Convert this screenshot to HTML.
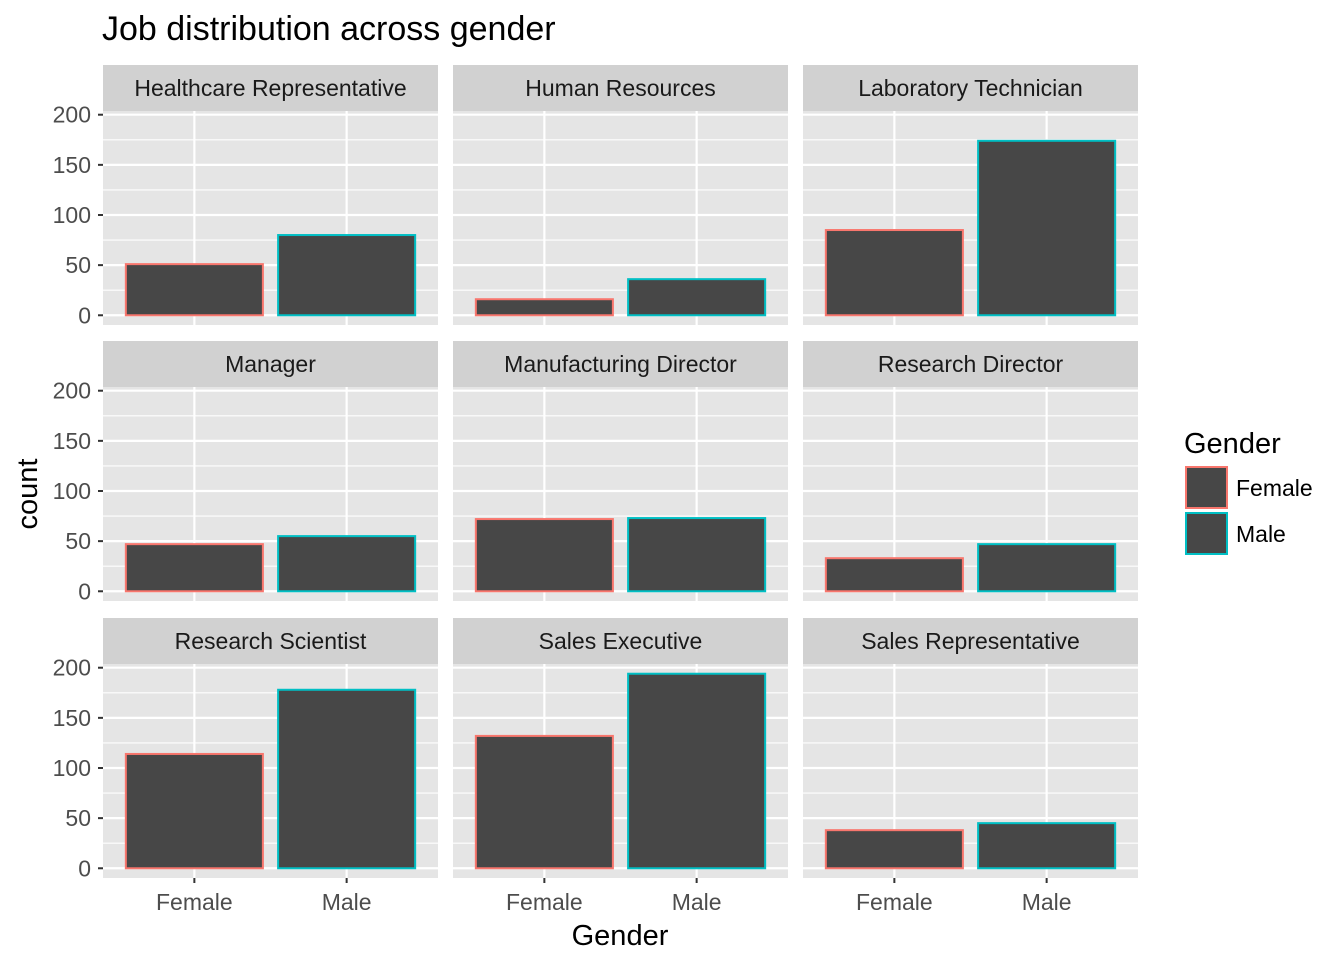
<!DOCTYPE html>
<html><head><meta charset="utf-8"><style>
html,body{margin:0;padding:0;background:#fff;}
svg text{font-family:"Liberation Sans",Arial,sans-serif;}
</style></head><body>
<svg id="chart" width="1344" height="960" xmlns="http://www.w3.org/2000/svg">
<text x="102" y="40" font-size="34" fill="#000">Job distribution across gender</text>
<text x="620" y="945" font-size="29" fill="#000" text-anchor="middle">Gender</text>
<text transform="translate(37,494) rotate(-90)" font-size="29" fill="#000" text-anchor="middle">count</text>
<g id="panels"></g>
<g>
<text x="1184" y="453" font-size="29" fill="#000">Gender</text>
<rect x="1186" y="467" width="41" height="41" fill="#474747" stroke="#F8766D" stroke-width="2"/>
<text x="1236" y="496" font-size="23" fill="#000">Female</text>
<rect x="1186" y="513" width="41" height="41" fill="#474747" stroke="#00BFC4" stroke-width="2"/>
<text x="1236" y="542" font-size="23" fill="#000">Male</text>
</g>
</svg>
<script>
const roles = ["Healthcare Representative","Human Resources","Laboratory Technician","Manager","Manufacturing Director","Research Director","Research Scientist","Sales Executive","Sales Representative"];
const genders = ["Female","Male"];
const femaleCounts = [51,16,85,47,72,33,114,132,38];
const maleCounts = [80,36,174,55,73,47,178,194,45];
const yTicks = [0,50,100,150,200];
const colors = ["#F8766D","#00BFC4"];
const NS="http://www.w3.org/2000/svg";
const g=document.getElementById('panels');
function mk(tag,attrs,parent){const e=document.createElementNS(NS,tag);for(const k in attrs)e.setAttribute(k,attrs[k]);(parent||g).appendChild(e);return e;}
const colX=[103,453,803], pw=335;
const stripTop=[65,341,618], ph=214, sh=46;
const allMax=Math.max(...femaleCounts,...maleCounts);
const yMin=-allMax*0.05, yMax=allMax*1.05;
roles.forEach((role,i)=>{
  const c=i%3, r=Math.floor(i/3);
  const x0=colX[c], st=stripTop[r], py=st+sh;
  const ys=v=>py+ph-(v-yMin)/(yMax-yMin)*ph;
  const xs=k=>x0+(k+1-0.4)/2.2*pw;
  const bw=0.9/2.2*pw;
  const pg=mk('g',{});
  
  
  const s=mk('rect',{x:x0,y:st,width:pw,height:sh,fill:'#D1D1D1'},pg);
  
  
  const st2=mk('text',{x:x0+pw/2,y:st+31,'font-size':23,fill:'#1A1A1A','text-anchor':'middle'},pg);
  st2.textContent=role;
  
  
  mk('rect',{x:x0,y:py,width:pw,height:ph,fill:'#E5E5E5'},pg);
  for(let k=0;k<yTicks.length-1;k++){const v=(yTicks[k]+yTicks[k+1])/2;mk('line',{x1:x0,x2:x0+pw,y1:ys(v),y2:ys(v),stroke:'#fff','stroke-width':1.1},pg);}
  yTicks.forEach(v=>mk('line',{x1:x0,x2:x0+pw,y1:ys(v),y2:ys(v),stroke:'#fff','stroke-width':2.2},pg));
  genders.forEach((gd,k)=>mk('line',{x1:xs(k),x2:xs(k),y1:py,y2:py+ph,stroke:'#fff','stroke-width':2.2},pg));
  const vals=[femaleCounts[i],maleCounts[i]];
  vals.forEach((v,k)=>{
    const b=mk('rect',{x:xs(k)-bw/2,y:ys(v),width:bw,height:ys(0)-ys(v),fill:'#474747',stroke:colors[k],'stroke-width':2},pg);
    
    
  });
  if(c===0){
    yTicks.forEach(v=>{
      mk('line',{x1:x0-5,x2:x0,y1:ys(v),y2:ys(v),stroke:'#333','stroke-width':2},pg);
      const t=mk('text',{x:x0-12,y:ys(v)+8,'font-size':23,fill:'#4D4D4D','text-anchor':'end'},pg);
      t.textContent=v;
      
      
    });
  }
  if(r===2){
    genders.forEach((gd,k)=>{
      mk('line',{x1:xs(k),x2:xs(k),y1:py+ph,y2:py+ph+5,stroke:'#333','stroke-width':2},pg);
      const t=mk('text',{x:xs(k),y:py+ph+32,'font-size':23,fill:'#4D4D4D','text-anchor':'middle'},pg);
      t.textContent=gd;
      
      
    });
  }
});
</script>
</body></html>
